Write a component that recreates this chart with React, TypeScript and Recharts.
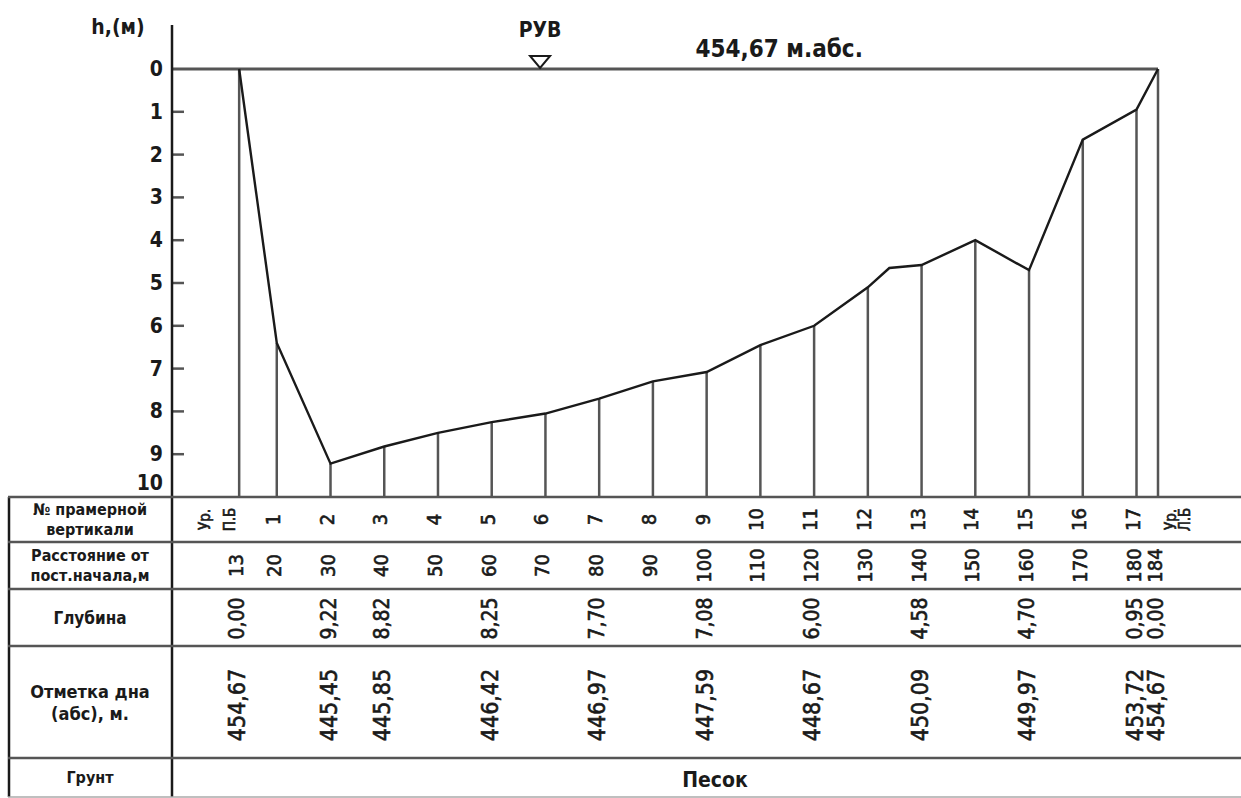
import React from 'react';
import {
  ComposedChart,
  Line,
  XAxis,
  YAxis,
  ReferenceLine,
  ReferenceDot,
} from 'recharts';

// промерные вертикали: расстояние от постоянного начала, м
const distances = [13, 20, 30, 40, 50, 60, 70, 80, 90, 100, 110, 120, 130, 140, 150, 160, 170, 180, 184];
const verticalNames = ['Ур.|П.Б', '1', '2', '3', '4', '5', '6', '7', '8', '9', '10', '11', '12', '13', '14', '15', '16', '17', 'Ур.|Л.Б'];
// глубина на вертикалях, м (промежуточные)
const depths = [0, 6.4, 9.22, 8.82, 8.5, 8.25, 8.05, 7.7, 7.3, 7.08, 6.45, 6.0, 5.1, 4.58, 4.0, 4.7, 1.65, 0.95, 0];
// излом профиля между 12 и 13 вертикалями
const extraX = [134];
const extraDepth = [4.65];

// строки таблицы с измеренными значениями
const measuredX = [13, 30, 40, 60, 80, 100, 120, 140, 160, 180, 184];
const depthText = ['0,00', '9,22', '8,82', '8,25', '7,70', '7,08', '6,00', '4,58', '4,70', '0,95', '0,00'];
const bottomText = ['454,67', '445,45', '445,85', '446,42', '446,97', '447,59', '448,67', '450,09', '449,97', '453,72', '454,67'];

const depthTicks = [0, 1, 2, 3, 4, 5, 6, 7, 8, 9, 10];
const waterMarkX = 69;
const waterLabelX = 113.5;
const waterLabel = '454,67 м.абс.';
const soil = 'Песок';

const W = 1241;
const H = 798;
const PLOT_LEFT = 172;
const PLOT_TOP = 69;
const ROWS = [497, 542, 589, 646, 758, 797];
const FONT = '"DejaVu Sans Condensed", "DejaVu Sans", sans-serif';
const INK = '#1a1a1a';
const LINE = '#555';

const profile = [
  ...distances.map((x, i) => ({ x, depth: depths[i] })),
  ...extraX.map((x, i) => ({ x, depth: extraDepth[i] })),
].sort((a, b) => a.x - b.x);

const DepthTick = (props: any) => {
  const { y, payload } = props;
  const v = payload.value;
  return (
    <g>
      {v > 0 && v < 10 && (
        <line x1={PLOT_LEFT} x2={PLOT_LEFT + 12} y1={y} y2={y} stroke={LINE} strokeWidth={2.5} />
      )}
      <text
        x={PLOT_LEFT - 9}
        y={v === 10 ? y - 14 : y}
        textAnchor="end"
        dominantBaseline="central"
        fontFamily={FONT}
        fontWeight="bold"
        fontSize={21}
        fill={INK}
      >
        {v}
      </text>
    </g>
  );
};

const vtext = (x: number, cy: number, s: string, size: number, key: string) => (
  <text
    key={key}
    x={x}
    y={cy}
    transform={`rotate(-90, ${x}, ${cy})`}
    textAnchor="middle"
    dominantBaseline="central"
    fontFamily={FONT}
    fontSize={size}
    fill={INK}
    stroke={INK}
    strokeWidth={0.6}
  >
    {s}
  </text>
);

const mid = (i: number) => (ROWS[i] + ROWS[i + 1]) / 2;

const namesMap: Record<number, string> = {};
distances.forEach((d, i) => (namesMap[d] = verticalNames[i]));
const depthMap: Record<number, string> = {};
measuredX.forEach((d, i) => (depthMap[d] = depthText[i]));
const bottomMap: Record<number, string> = {};
measuredX.forEach((d, i) => (bottomMap[d] = bottomText[i]));

// одна ось X рисует все строки таблицы под профилем
const TableTick = (props: any) => {
  const { x, payload } = props;
  const d = payload.value;
  const name = namesMap[d];
  const out: React.ReactNode[] = [];
  if (name && name.includes('|')) {
    const offs = d < 100 ? [-34, -9] : [13, 27];
    name.split('|').forEach((p, k) => out.push(vtext(x + offs[k], mid(0), p, 15, `n${k}`)));
  } else if (name) {
    out.push(vtext(x - 4, mid(0), name, 20, 'n'));
  }
  out.push(vtext(x - 3, mid(1), String(d), 20, 'd'));
  if (depthMap[d]) out.push(vtext(x - 2, mid(2) + 1, depthMap[d], 21, 'h'));
  if (bottomMap[d]) out.push(vtext(x - 2, mid(3) + 3, bottomMap[d], 23, 'z'));
  return <g>{out}</g>;
};

const WaterMark = (props: any) => {
  const { cx, cy } = props;
  return (
    <g>
      <polygon points={`${cx - 10},${cy - 13} ${cx + 10},${cy - 13} ${cx},${cy - 1}`} fill="#fff" stroke={INK} strokeWidth={2} />
      <text x={cx} y={cy - 32} textAnchor="middle" fontFamily={FONT} fontWeight="bold" fontSize={21} fill={INK}>
        РУВ
      </text>
    </g>
  );
};

const WaterLabel = (props: any) => {
  const { cx, cy } = props;
  return (
    <text x={cx} y={cy - 12} textAnchor="middle" fontFamily={FONT} fontWeight="bold" fontSize={24} fill={INK}>
      {waterLabel}
    </text>
  );
};

const headLabel = (lines: string[], i: number, size: number) => {
  const cy = mid(i);
  const step = size + 4;
  const start = cy - ((lines.length - 1) * step) / 2;
  return lines.map((l, k) => (
    <text
      key={`${i}-${k}`}
      x={90}
      y={start + k * step}
      textAnchor="middle"
      dominantBaseline="central"
      fontFamily={FONT}
      fontWeight="bold"
      fontSize={size}
      fill={INK}
    >
      {l}
    </text>
  ));
};

export default function App() {
  return (
    <div style={{ position: 'absolute', left: 0, top: 0, width: W, height: H, background: '#fff' }}>
      <ComposedChart
        width={W}
        height={H}
        data={profile}
        margin={{ top: PLOT_TOP, right: W - 1158, bottom: 0, left: 0 }}
      >
        <XAxis
          dataKey="x"
          type="number"
          domain={[0.5, 184]}
          ticks={distances}
          interval={0}
          height={H - ROWS[0]}
          axisLine={false}
          tickLine={false}
          tick={<TableTick />}
        />
        <YAxis
          type="number"
          domain={[0, 10]}
          reversed
          ticks={depthTicks}
          interval={0}
          width={PLOT_LEFT}
          axisLine={false}
          tickLine={false}
          tick={<DepthTick />}
        />
        <ReferenceLine y={0} stroke={LINE} strokeWidth={3} />
        {distances.map((d, i) => (
          <ReferenceLine
            key={d}
            segment={[{ x: d, y: depths[i] }, { x: d, y: 10 }]}
            stroke={LINE}
            strokeWidth={2.5}
          />
        ))}
        <Line dataKey="depth" type="linear" stroke={INK} strokeWidth={2.4} dot={false} isAnimationActive={false} />
        <ReferenceDot x={waterMarkX} y={0} ifOverflow="visible" shape={<WaterMark />} />
        <ReferenceDot x={waterLabelX} y={0} ifOverflow="visible" shape={<WaterLabel />} />
      </ComposedChart>
      <svg width={W} height={H} style={{ position: 'absolute', left: 0, top: 0, pointerEvents: 'none' }}>
        <line x1={PLOT_LEFT} x2={PLOT_LEFT} y1={25} y2={ROWS[5]} stroke={INK} strokeWidth={2.5} />
        <line x1={9} x2={9} y1={ROWS[0]} y2={ROWS[5]} stroke={INK} strokeWidth={2.5} />
        {ROWS.map((y, i) => (
          <line key={y} x1={8} x2={W} y1={y} y2={y} stroke={i === 5 ? '#aaa' : LINE} strokeWidth={i === 5 ? 1.5 : 2.5} />
        ))}
        <text x={118} y={34} textAnchor="middle" fontFamily={FONT} fontWeight="bold" fontSize={21} fill={INK}>
          h,(м)
        </text>
        {headLabel(['№ прамерной', 'вертикали'], 0, 16)}
        {headLabel(['Расстояние от', 'пост.начала,м'], 1, 16)}
        {headLabel(['Глубина'], 2, 17)}
        {headLabel(['Отметка дна', '(абс), м.'], 3, 18)}
        {headLabel(['Грунт'], 4, 16)}
        <text x={715} y={mid(4) + 2} textAnchor="middle" dominantBaseline="central" fontFamily={FONT} fontWeight="bold" fontSize={21} fill={INK}>
          {soil}
        </text>
      </svg>
    </div>
  );
}
